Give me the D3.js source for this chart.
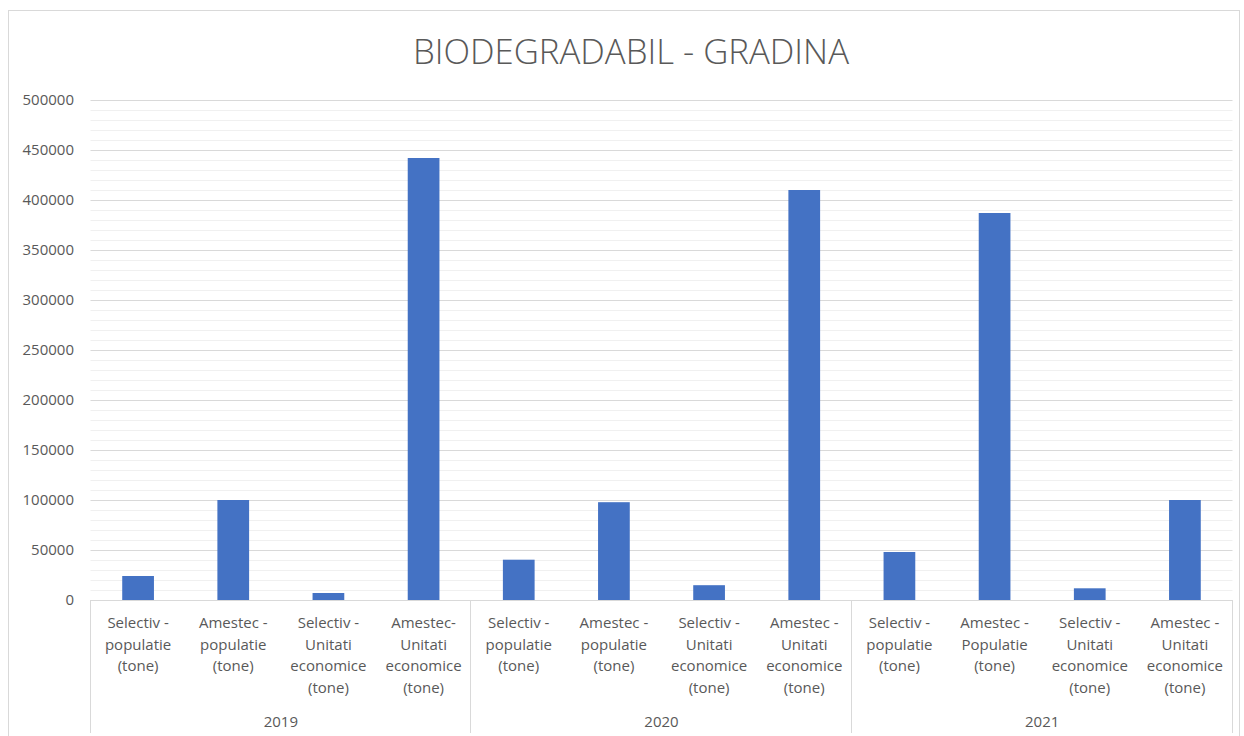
<!DOCTYPE html>
<html>
<head>
<meta charset="utf-8">
<script src="https://cdn.jsdelivr.net/npm/d3@7"></script>
<style>
  body { margin: 0; background: #fff; }
  text { font-family: "Open Sans", "Liberation Sans", sans-serif; fill: #595959; }
</style>
</head>
<body>
<div id="chart"></div>
<script>
const W = 1244;
const H = 736;

const years = ['2019', '2020', '2021'];
const labels2019 = ['Selectiv -\npopulatie\n(tone)', 'Amestec -\npopulatie\n(tone)', 'Selectiv -\nUnitati\neconomice\n(tone)', 'Amestec-\nUnitati\neconomice\n(tone)'];
const labels2020 = ['Selectiv -\npopulatie\n(tone)', 'Amestec -\npopulatie\n(tone)', 'Selectiv -\nUnitati\neconomice\n(tone)', 'Amestec -\nUnitati\neconomice\n(tone)'];
const labels2021 = ['Selectiv -\npopulatie\n(tone)', 'Amestec -\nPopulatie\n(tone)', 'Selectiv -\nUnitati\neconomice\n(tone)', 'Amestec -\nUnitati\neconomice\n(tone)'];
const values2019 = [24000, 100000, 7000, 442000];
const values2020 = [40300, 97800, 14800, 410000];
const values2021 = [48000, 387000, 11700, 100000];
const yTicks = [0, 50000, 100000, 150000, 200000, 250000, 300000, 350000, 400000, 450000, 500000];

const labelsByYear = [labels2019, labels2020, labels2021];
const valuesByYear = [values2019, values2020, values2021];

const data = [];
years.forEach((yr, i) => {
    valuesByYear[i].forEach((v, j) => {
        data.push({key: yr + '|' + j, year: yr, label: labelsByYear[i][j], value: v});
    });
});

const pLeft = 90.5, pRight = 1232.5, pTop = 100, pBottom = 600;

const x = d3.scaleBand()
            .domain(data.map(d => d.key))
            .range([pLeft, pRight])
            .paddingInner(2 / 3)
            .paddingOuter(1 / 3);

const xCat = d3.scaleBand()
            .domain(data.map(d => d.key))
            .range([pLeft, pRight]);

const xYear = d3.scaleBand()
            .domain(years)
            .range([pLeft, pRight]);

const y = d3.scaleLinear()
            .domain([0, 500000])
            .range([pBottom, pTop]);

const svg = d3.select("#chart")
            .append("svg")
            .attr("width", W)
            .attr("height", H);

svg.append("rect")
    .attr("x", 8.5).attr("y", 10.5)
    .attr("width", 1231).attr("height", 740)
    .attr("fill", "#fff")
    .attr("stroke", "#d9d9d9");

svg.append("text")
    .text("BIODEGRADABIL - GRADINA")
    .attr("x", 631)
    .attr("y", 63.5)
    .attr("text-anchor", "middle")
    .attr("font-size", 35)
    .attr("font-weight", 300)
    .attr("textLength", 436)
    .attr("lengthAdjust", "spacingAndGlyphs");

// minor gridlines
svg.append("g")
    .selectAll("line")
    .data(y.ticks(50).filter(t => t % 50000 !== 0))
    .enter()
    .append("line")
    .attr("x1", pLeft).attr("x2", pRight)
    .attr("y1", d => Math.round(y(d)) + 0.5)
    .attr("y2", d => Math.round(y(d)) + 0.5)
    .attr("stroke", "#f0f0f0");

// major gridlines
svg.append("g")
    .selectAll("line")
    .data(yTicks.slice(1))
    .enter()
    .append("line")
    .attr("x1", pLeft).attr("x2", pRight)
    .attr("y1", d => Math.round(y(d)) + 0.5)
    .attr("y2", d => Math.round(y(d)) + 0.5)
    .attr("stroke", "#d9d9d9");

const yAxis = d3.axisLeft(y).tickValues(yTicks).tickSize(0).tickPadding(0).tickFormat(d3.format("d"));
const gy = svg.append("g")
    .attr("transform", "translate(74,0)")
    .call(yAxis);
gy.select(".domain").remove();
gy.selectAll("text")
    .attr("font-size", 15)
    .attr("fill", "#595959")
    .attr("font-family", null);
gy.attr("font-family", null).attr("font-size", null);

svg.selectAll(".bar")
    .data(data)
    .enter()
    .append("rect")
    .attr("class", "bar")
    .attr("x", d => x(d.key))
    .attr("width", x.bandwidth())
    .attr("y", d => y(d.value))
    .attr("height", d => y(0) - y(d.value))
    .attr("fill", "#4472c4");

// category axis line
svg.append("line")
    .attr("x1", pLeft).attr("x2", pRight)
    .attr("y1", pBottom + 0.5).attr("y2", pBottom + 0.5)
    .attr("stroke", "#d9d9d9");

// group separators
const seps = years.map(yr => xYear(yr)).concat([xYear.range()[1]]);
svg.append("g")
    .selectAll("line")
    .data(seps)
    .enter()
    .append("line")
    .attr("x1", d => Math.round(d) - 0.5).attr("x2", d => Math.round(d) - 0.5)
    .attr("y1", pBottom).attr("y2", 733)
    .attr("stroke", "#d9d9d9");

const catLabels = svg.append("g")
    .selectAll("text")
    .data(data)
    .enter()
    .append("text")
    .attr("text-anchor", "middle")
    .attr("font-size", 15);

catLabels.selectAll("tspan")
    .data(d => d.label.split('\n').map(s => ({s, cx: xCat(d.key) + xCat.bandwidth() / 2})))
    .enter()
    .append("tspan")
    .attr("x", d => d.cx)
    .attr("y", (d, i) => 628 + i * 21.5)
    .text(d => d.s);

svg.append("g")
    .selectAll("text")
    .data(years)
    .enter()
    .append("text")
    .attr("text-anchor", "middle")
    .attr("font-size", 15)
    .attr("x", d => xYear(d) + xYear.bandwidth() / 2)
    .attr("y", 727)
    .text(d => d);
</script>
</body>
</html>
